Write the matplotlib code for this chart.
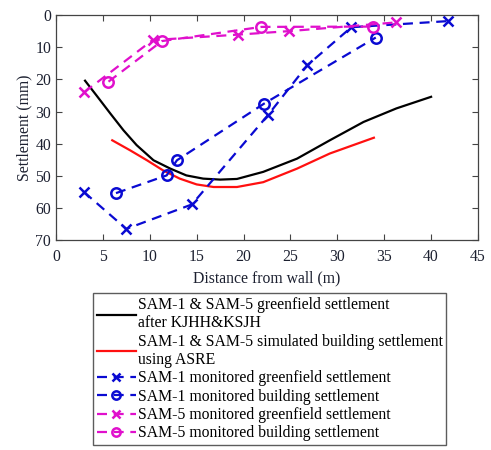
import matplotlib
matplotlib.use("Agg")
import matplotlib.pyplot as plt

plt.rcParams["font.family"] = ["Liberation Serif", "DejaVu Serif"]

# Greenfield settlement curve (KJHH & KSJH)
green_x = [3.1, 4.3, 5.8, 7.2, 8.6, 10.4, 12.2, 13.9, 15.7, 17.5, 19.3,
           22.1, 25.7, 29.2, 32.8, 36.3, 40.0]
green_y = [20.4, 24.9, 30.6, 35.8, 40.4, 45.1, 47.7, 49.8, 50.8, 51.1, 50.9,
           48.7, 44.6, 38.9, 33.2, 29.0, 25.4]

# Simulated building settlement (ASRE)
asre_x = [6.0, 7.9, 9.7, 11.4, 13.2, 15.0, 16.8, 19.3, 22.1, 25.7, 29.2, 33.9]
asre_y = [38.9, 42.0, 45.1, 48.2, 50.8, 52.6, 53.4, 53.4, 51.9, 47.7, 43.0, 38.1]

# SAM-1 monitored greenfield settlement
sam1_g_x = [3.0, 7.5, 14.5, 22.6, 26.8, 31.5, 41.8]
sam1_g_y = [55.0, 66.4, 58.8, 31.1, 15.6, 3.8, 1.9]

# SAM-1 monitored building settlement
sam1_b_x = [6.4, 11.8, 12.9, 22.2, 34.1]
sam1_b_y = [55.3, 49.8, 45.1, 27.5, 7.0]

# SAM-5 monitored greenfield settlement
sam5_g_x = [3.0, 10.3, 19.4, 24.9, 36.3]
sam5_g_y = [24.0, 7.8, 6.1, 5.0, 2.3]

# SAM-5 monitored building settlement
sam5_b_x = [5.6, 11.3, 21.9, 33.8]
sam5_b_y = [20.7, 8.1, 3.7, 3.6]

labels = [
    "SAM-1 & SAM-5 greenfield settlement\nafter KJHH&KSJH",
    "SAM-1 & SAM-5 simulated building settlement\nusing ASRE",
    "SAM-1 monitored greenfield settlement",
    "SAM-1 monitored building settlement",
    "SAM-5 monitored greenfield settlement",
    "SAM-5 monitored building settlement",
]

blue = "#0a0ad2"
magenta = "#e010cc"
text_color = "#1c2030"
dash = (0, (4.5, 3))
fs = 11.3

fig = plt.figure(figsize=(4.91, 4.5), dpi=100)
ax = fig.add_axes([0.114, 0.4656, 0.8595, 0.5011])

ax.plot(green_x, green_y, color="black", lw=1.6, label=labels[0])
ax.plot(asre_x, asre_y, color="#ff1010", lw=1.6, label=labels[1])
ax.plot(sam1_g_x, sam1_g_y, color=blue, lw=1.6, ls=dash, marker="x",
        ms=6.5, mew=1.8, label=labels[2])
ax.plot(sam1_b_x, sam1_b_y, color=blue, lw=1.6, ls=dash, marker="o",
        ms=7.5, mew=1.8, mfc="none", label=labels[3])
ax.plot(sam5_g_x, sam5_g_y, color=magenta, lw=1.6, ls=dash, marker="x",
        ms=6.5, mew=1.8, label=labels[4])
ax.plot(sam5_b_x, sam5_b_y, color=magenta, lw=1.6, ls=dash, marker="o",
        ms=7.5, mew=1.8, mfc="none", label=labels[5])

ax.set_xlim(0, 45)
ax.set_ylim(70, 0)
ax.set_xticks(range(0, 46, 5))
ax.set_yticks(range(0, 71, 10))
ax.tick_params(direction="in", top=True, right=True, length=4, width=0.8,
               labelsize=fs, colors="#444444", labelcolor=text_color)
ax.tick_params(axis="x", pad=6)
for s in ax.spines.values():
    s.set_color("#444444")
    s.set_linewidth(0.9)

ax.set_xlabel("Distance from wall (m)", fontsize=fs, color=text_color, labelpad=4)
ax.set_ylabel("Settlement (mm)", fontsize=fs, color=text_color, labelpad=2)

handles, labs = ax.get_legend_handles_labels()
leg = fig.legend(handles, labs, loc="upper left", bbox_to_anchor=(0.189, 0.349),
                 fontsize=fs, frameon=True, fancybox=False, edgecolor="#333333",
                 handlelength=2.5, handletextpad=0.1, labelspacing=0.15,
                 borderpad=0.25, borderaxespad=0.0, markerscale=0.8)
leg.get_frame().set_linewidth(1.0)

fig.savefig("out.png", dpi=100)
